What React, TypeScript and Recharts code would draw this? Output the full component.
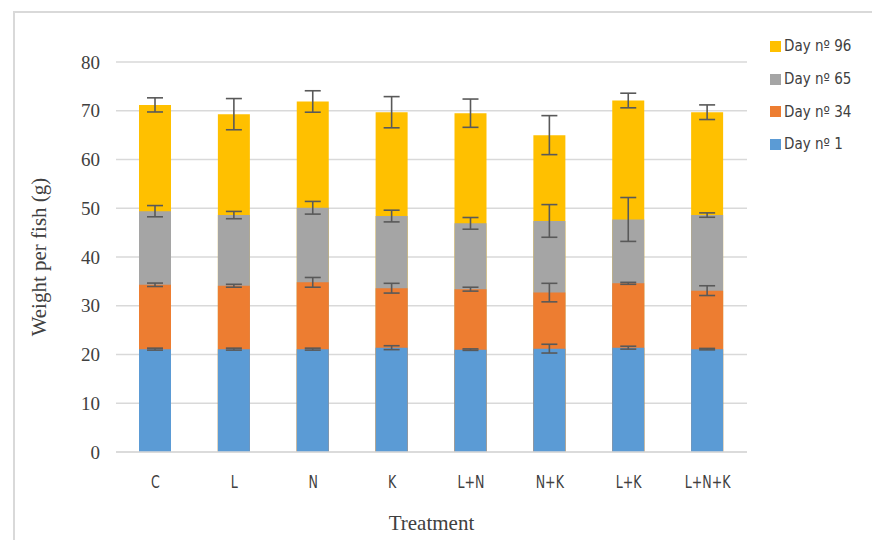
import React from "react";
import { BarChart, Bar, XAxis, YAxis, CartesianGrid, ErrorBar } from "recharts";

const treatments = ["C", "L", "N", "K", "L+N", "N+K", "L+K", "L+N+K"];
const day1 = [21.1, 21.1, 21.1, 21.4, 21.0, 21.2, 21.4, 21.1];
const day1Err = [0.2, 0.2, 0.2, 0.4, 0.15, 0.9, 0.3, 0.15];
const day34 = [34.3, 34.1, 34.8, 33.6, 33.4, 32.7, 34.6, 33.1];
const day34Err = [0.35, 0.3, 1.0, 1.0, 0.4, 1.9, 0.2, 1.0];
const day65 = [49.4, 48.6, 50.1, 48.4, 46.9, 47.4, 47.7, 48.6];
const day65Err = [1.15, 0.75, 1.3, 1.2, 1.2, 3.35, 4.5, 0.45];
const day96 = [71.2, 69.3, 71.9, 69.7, 69.5, 65.0, 72.1, 69.7];
const day96Err = [1.45, 3.2, 2.2, 3.2, 2.9, 4.0, 1.5, 1.5];
const yTicks = [0, 10, 20, 30, 40, 50, 60, 70, 80];

const seriesNames = ["Day nº 96", "Day nº 65", "Day nº 34", "Day nº 1"];
const seriesKeys = ["d96", "d65", "d34", "d1"];
const seriesColors = ["#FFC000", "#A5A5A5", "#ED7D31", "#5B9BD5"];

const data = treatments.map((t, i) => ({
  name: t,
  d1: day1[i],
  d1e: day1Err[i],
  d34: day34[i],
  d34e: day34Err[i],
  d65: day65[i],
  d65e: day65Err[i],
  d96: day96[i],
  d96e: day96Err[i],
}));

const sans = "'DejaVu Sans Condensed', 'Open Sans', sans-serif";
const serif = "'Liberation Serif', 'DejaVu Serif', serif";

function XTick(props: any) {
  const { x, y, payload } = props;
  return (
    <g transform={`translate(${x},${y + 30}) scale(1,1.3)`}>
      <text x={0} y={0} textAnchor="middle" fill="#404040" fontSize={14} fontFamily={sans}>
        {payload.value}
      </text>
    </g>
  );
}

export default function App() {
  return (
    <div style={{ position: "relative", width: 872, height: 532, overflow: "hidden", background: "#fff" }}>
      <div
        style={{
          position: "absolute",
          left: 5,
          top: 3,
          width: 1000,
          height: 1000,
          border: "2px solid #d9d9d9",
          boxSizing: "border-box",
        }}
      />
      <div style={{ position: "absolute", left: 0, top: 0 }}>
        <BarChart
          width={872}
          height={532}
          data={data}
          margin={{ top: 54, right: 133, left: 0, bottom: 0 }}
          barSize={32}
          barGap={-32}
        >
          <CartesianGrid vertical={false} stroke="#d9d9d9" strokeWidth={1.3} />
          <XAxis
            dataKey="name"
            height={88}
            axisLine={{ stroke: "#d9d9d9", strokeWidth: 1.3 }}
            tickLine={false}
            tickMargin={0}
            tick={<XTick />}
            label={{
              value: "Treatment",
              position: "insideBottom",
              offset: 10,
              style: { fill: "#404040", fontSize: 21, fontFamily: serif },
            }}
          />
          <YAxis
            width={108}
            domain={[0, 80]}
            ticks={yTicks}
            axisLine={false}
            tickLine={false}
            tickMargin={10}
            tick={{ fill: "#404040", fontSize: 19, fontFamily: serif }}
            label={{
              value: "Weight per fish (g)",
              angle: -90,
              position: "insideLeft",
              dx: 26,
              style: { fill: "#404040", fontSize: 21, fontFamily: serif, textAnchor: "middle" },
            }}
          />
          {seriesKeys.map((k, i) => (
            <Bar key={k} dataKey={k} name={seriesNames[i]} fill={seriesColors[i]} isAnimationActive={false}>
              <ErrorBar dataKey={k + "e"} width={8} stroke="#595959" strokeWidth={1.6} direction="y" />
            </Bar>
          ))}
        </BarChart>
      </div>
      <div style={{ position: "absolute", left: 762, top: 22, fontFamily: sans, fontSize: 15, color: "#404040" }}>
        {seriesNames.map((n, i) => (
          <div key={n} style={{ display: "flex", alignItems: "center", height: 32.7 }}>
            <span style={{ display: "inline-block", width: 11, height: 11, background: seriesColors[i], marginRight: 3 }} />
            <span>{n}</span>
          </div>
        ))}
      </div>
    </div>
  );
}
